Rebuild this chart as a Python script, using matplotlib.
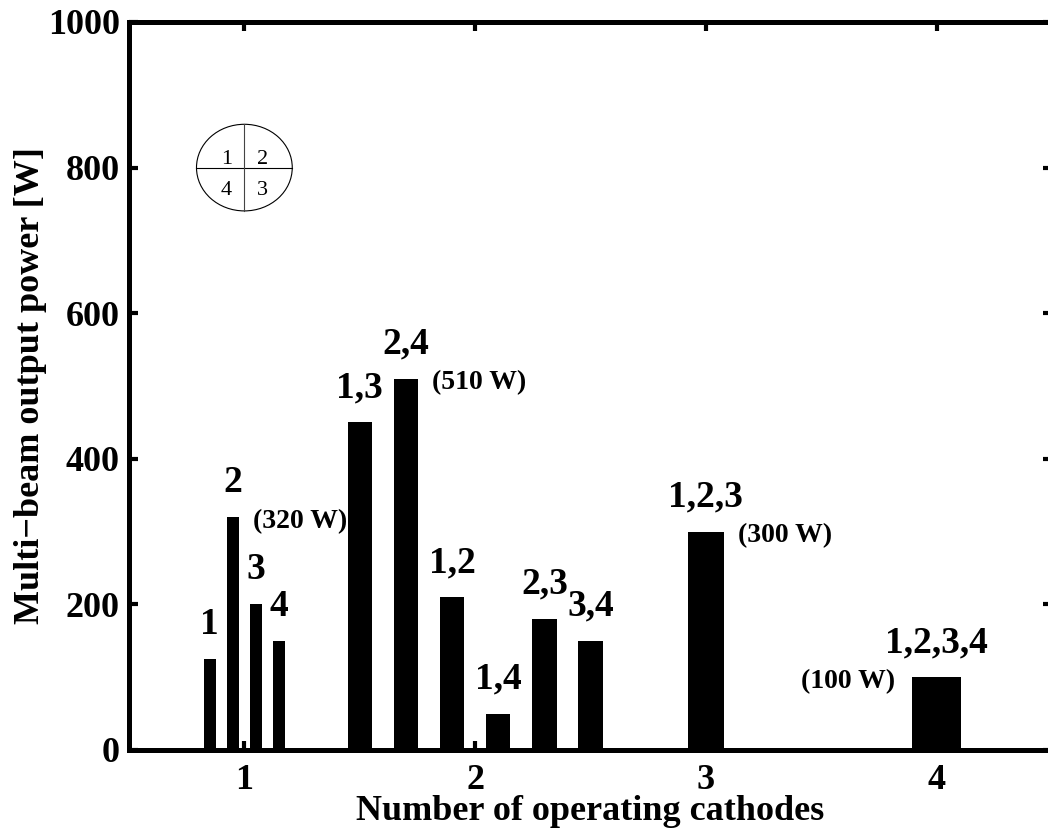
import numpy as np
import matplotlib
matplotlib.use("Agg")
import matplotlib.pyplot as plt
from matplotlib.patches import Ellipse

plt.rcParams['font.family'] = ['Liberation Serif', 'DejaVu Serif']
plt.rcParams['font.weight'] = 'bold'

# operating cathode combinations and the measured multi-beam output power
n_cathodes = [1, 1, 1, 1, 2, 2, 2, 2, 2, 2, 3, 4]
combos = ['1', '2', '3', '4', '1,3', '2,4', '1,2', '1,4', '2,3', '3,4', '1,2,3', '1,2,3,4']
power = [125, 320, 200, 150, 450, 510, 210, 50, 180, 150, 300, 100]

xticks = [1, 2, 3, 4]
yticks = [0, 200, 400, 600, 800, 1000]

n_arr = np.array(n_cathodes)
pw = np.array(power)

# spread the bars of each group around its integer position
xpos = np.zeros(len(n_arr))
for n in np.unique(n_arr):
    idx = np.where(n_arr == n)[0]
    k = len(idx)
    xpos[idx] = n + (np.arange(k) - (k - 1) / 2) * 0.1 * n
widths = 0.053 * n_arr

fig = plt.figure(figsize=(10.48, 8.39), dpi=100)
ax = fig.add_axes([129 / 1048, 1 - 750 / 839, (1052 - 129) / 1048, (750 - 22) / 839])

ax.bar(xpos, pw, width=widths, color='black', edgecolor='none')

# combination labels above each bar
for x, v, lab in zip(xpos, pw, combos):
    ax.annotate(lab, (x, v), xytext=(0, 18), textcoords='offset points',
                ha='center', va='baseline', fontsize=27, fontweight='bold')

# highest power in each group
for n in np.unique(n_arr):
    idx = np.where(n_arr == n)[0]
    i = idx[np.argmax(pw[idx])]
    txt = '(%d W)' % pw[i]
    if n == 4:
        ax.annotate(txt, (xpos[i] - widths[i] / 2, pw[i]), xytext=(-12, -3),
                    textcoords='offset points', ha='right', va='center',
                    fontsize=20, fontweight='bold')
    else:
        ax.annotate(txt, (xpos[i] + widths[i] / 2, pw[i]), xytext=(10, -3),
                    textcoords='offset points', ha='left', va='center',
                    fontsize=20, fontweight='bold')

# cathode layout sketch
cx, cy, ew, eh = 1.0, 800, 0.415, 119
ax.add_patch(Ellipse((cx, cy), ew, eh, facecolor='none', edgecolor='black', lw=0.8))
ax.plot([cx - ew / 2, cx + ew / 2], [cy, cy], color='black', lw=0.8)
ax.plot([cx, cx], [cy - eh / 2, cy + eh / 2], color='#444444', lw=0.8)
for lab, dx, dy in [('1', -13, 2.5), ('2', 13, 2.5), ('4', -13, -20), ('3', 13, -20)]:
    ax.annotate(lab, (cx, cy), xytext=(dx, dy), textcoords='offset points',
                ha='center', va='baseline', fontsize=16, fontweight='normal')

ax.set_xlim(0.5, 4.5)
ax.set_ylim(0, 1000)
ax.set_xticks(xticks)
ax.set_yticks(yticks)
ax.tick_params(direction='in', length=6.5, width=3, top=True, right=True,
               labelsize=26)
ax.tick_params(axis='x', pad=10)
ax.tick_params(axis='y', pad=6.5)
for sp in ax.spines.values():
    sp.set_linewidth(3.6)

ax.set_xlabel('Number of operating cathodes', fontsize=26, fontweight='bold', labelpad=-1)
ax.set_ylabel('Multi\u2212beam output power [W]', fontsize=26, fontweight='bold', labelpad=1)

fig.savefig('out.png', dpi=100)
